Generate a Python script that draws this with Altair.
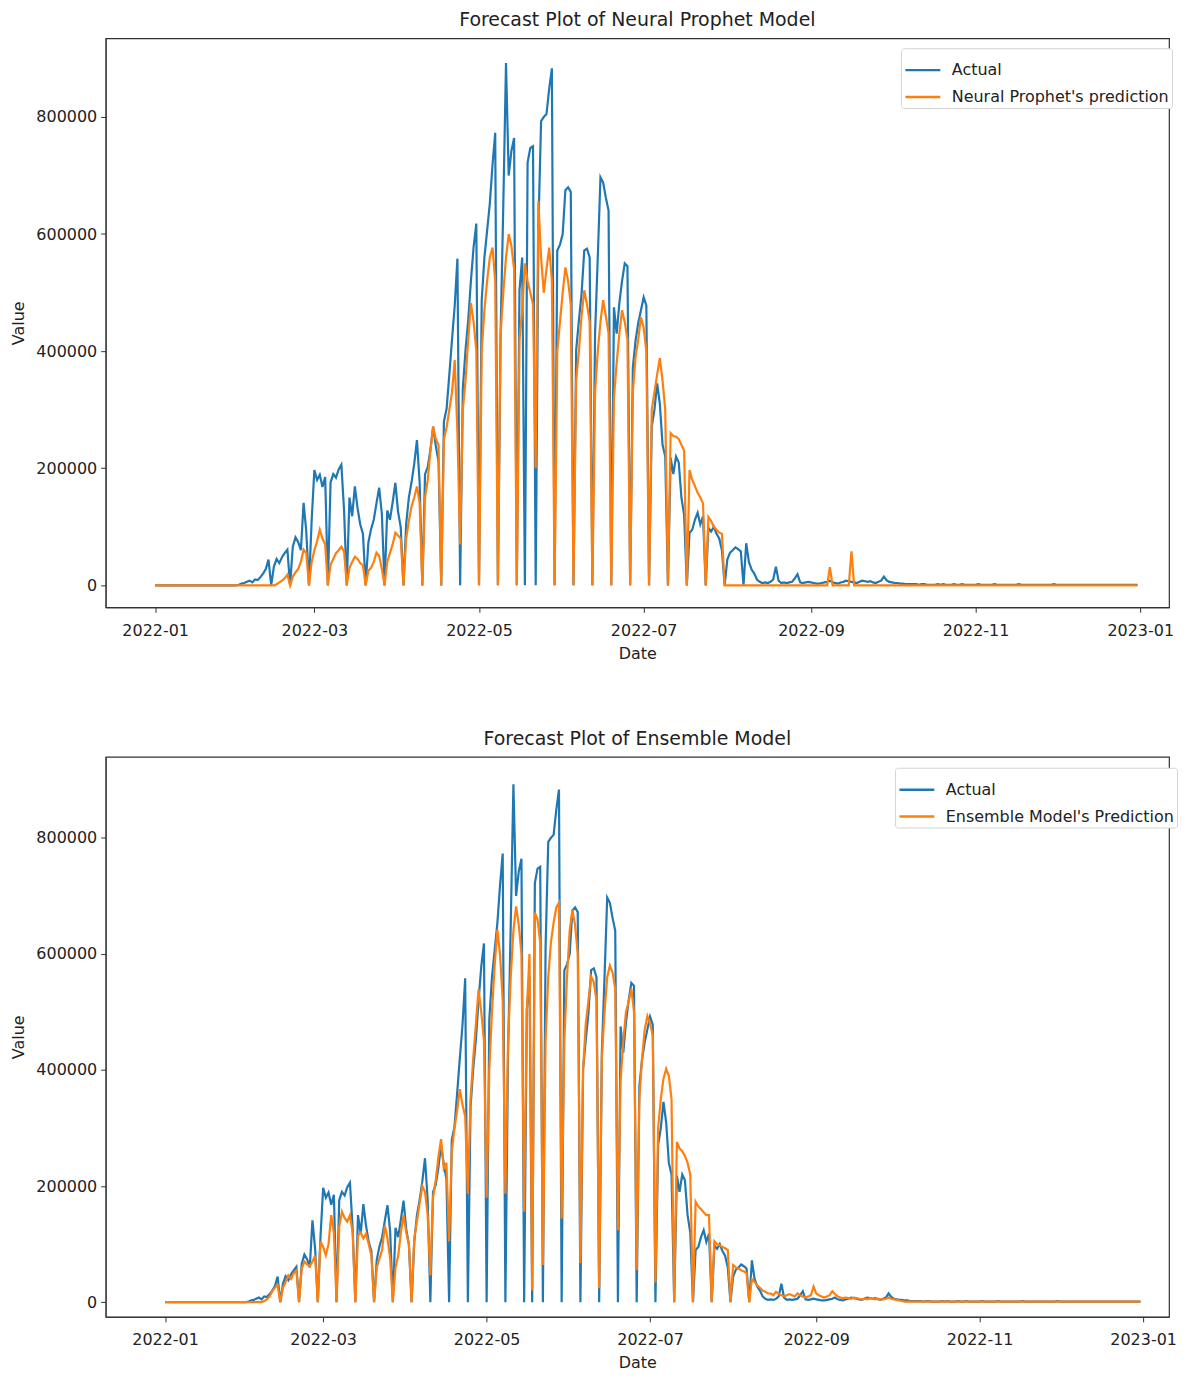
import altair as alt
import pandas as pd

# ---- values in thousands: first two days (Sat 1 Jan, Sun 2 Jan 2022), then weeks Mon..Sun ----
head_actual = [0, 0]
head_np = [0, 0]
head_ens = [0, 0]

actual_weeks = [
    [0, 0, 0, 0, 0, 0, 0],          # Jan 3
    [0, 0, 0, 0, 0, 0, 0],
    [0, 0, 0, 0, 0, 0, 0],
    [0, 0, 0, 0, 0, 0, 0],
    [0, 1, 3, 4, 6, 8, 5],          # Jan 31
    [10, 9, 14, 20, 28, 44, 0],
    [32, 45, 38, 48, 55, 61, 0],
    [66, 82, 74, 60, 141, 92, 0],
    [112, 197, 180, 189, 168, 185, 0],  # Feb 28
    [176, 190, 184, 198, 206, 128, 0],
    [150, 118, 169, 132, 104, 88, 0],
    [73, 96, 112, 140, 167, 122, 0],
    [128, 112, 142, 175, 126, 99, 0],   # Mar 28
    [104, 150, 176, 208, 248, 176, 0],
    [190, 202, 232, 271, 238, 212, 0],
    [280, 302, 360, 420, 478, 558, 0],
    [336, 402, 453, 520, 578, 618, 0],  # Apr 25
    [487, 560, 606, 652, 718, 773, 0],
    [430, 650, 892, 700, 742, 764, 0],
    [504, 560, 0, 722, 747, 750, 0],
    [610, 793, 800, 805, 848, 883, 0],  # May 23
    [572, 582, 600, 675, 680, 672, 0],
    [402, 452, 498, 572, 575, 560, 0],
    [430, 560, 697, 688, 662, 640, 0],
    [475, 430, 482, 520, 550, 545, 0],  # Jun 20
    [372, 418, 448, 470, 492, 478, 0],
    [271, 300, 345, 310, 240, 220, 0],
    [218, 190, 220, 210, 150, 120, 0],
    [90, 95, 112, 124, 104, 118, 0],    # Jul 18
    [98, 92, 100, 88, 80, 60, 0],
    [44, 56, 60, 65, 62, 58, 0],
    [72, 40, 27, 20, 10, 6, 4],
    [5, 4, 6, 10, 32, 8, 4],            # Aug 15
    [5, 4, 5, 6, 12, 19, 5],
    [4, 5, 6, 5, 4, 3, 3],
    [4, 5, 6, 8, 5, 4, 3],
    [5, 6, 8, 7, 6, 5, 4],              # Sep 12
    [6, 8, 7, 6, 7, 5, 4],
    [6, 8, 15, 9, 6, 5, 4],
    [4, 3, 3, 2, 2, 2, 2],
    [2, 1, 2, 2, 1, 1, 1],              # Oct 10
    [1, 2, 1, 2, 1, 1, 1],
    [2, 1, 1, 2, 1, 1, 1],
    [1, 1, 2, 1, 1, 1, 1],
    [1, 2, 1, 1, 1, 1, 1],              # Nov 7
    [1, 1, 1, 2, 1, 1, 1],
    [1, 1, 1, 1, 1, 1, 1],
    [1, 1, 2, 1, 1, 1, 1],
    [1, 1, 1, 1, 1, 1, 1],              # Dec 5
    [1, 1, 1, 1, 1, 1, 1],
    [1, 1, 1, 1, 1, 1, 1],
    [1, 1, 1, 1, 1, 1, 1],
]

np_weeks = [
    [0, 0, 0, 0, 0, 0, 0],
    [0, 0, 0, 0, 0, 0, 0],
    [0, 0, 0, 0, 0, 0, 0],
    [0, 0, 0, 0, 0, 0, 0],
    [0, 0, 0, 0, 0, 0, 0],
    [0, 0, 0, 0, 0, 0, 0],
    [0, 2, 5, 8, 12, 18, 0],
    [15, 22, 28, 40, 61, 55, 0],
    [40, 60, 75, 95, 80, 70, 0],
    [35, 45, 55, 60, 66, 58, 0],
    [30, 40, 49, 45, 38, 34, 0],
    [25, 30, 40, 56, 50, 28, 0],
    [40, 55, 70, 90, 85, 80, 0],
    [80, 110, 135, 150, 169, 141, 0],
    [150, 180, 230, 271, 250, 240, 0],
    [250, 270, 300, 330, 385, 260, 70],
    [300, 350, 420, 482, 450, 400, 0],
    [400, 470, 520, 560, 577, 520, 0],
    [430, 500, 560, 600, 580, 540, 0],
    [420, 470, 550, 520, 500, 480, 200],
    [657, 560, 500, 540, 577, 520, 0],
    [400, 450, 500, 543, 520, 480, 0],
    [350, 400, 460, 504, 480, 450, 0],
    [330, 400, 450, 487, 460, 430, 0],
    [320, 380, 430, 470, 450, 420, 0],
    [330, 390, 420, 458, 440, 400, 0],
    [300, 330, 360, 388, 350, 300, 0],
    [260, 255, 254, 250, 240, 230, 0],
    [197, 180, 170, 158, 150, 140, 0],
    [117, 110, 100, 95, 90, 88, 0],
    [0, 0, 0, 0, 0, 0, 0],
    [0, 0, 0, 0, 0, 0, 0],
    [0, 0, 0, 0, 0, 0, 0],
    [0, 0, 0, 0, 0, 0, 0],
    [0, 0, 0, 0, 0, 0, 0],
    [0, 0, 0, 31, 0, 0, 0],
    [0, 0, 0, 0, 58, 0, 0],
    [0, 0, 0, 0, 0, 0, 0],
    [0, 0, 0, 0, 0, 0, 0],
    [0, 0, 0, 0, 0, 0, 0],
    [0, 0, 0, 0, 0, 0, 0],
    [0, 0, 0, 0, 0, 0, 0],
    [0, 0, 0, 0, 0, 0, 0],
    [0, 0, 0, 0, 0, 0, 0],
    [0, 0, 0, 0, 0, 0, 0],
    [0, 0, 0, 0, 0, 0, 0],
    [0, 0, 0, 0, 0, 0, 0],
    [0, 0, 0, 0, 0, 0, 0],
    [0, 0, 0, 0, 0, 0, 0],
    [0, 0, 0, 0, 0, 0, 0],
    [0, 0, 0, 0, 0, 0, 0],
    [0, 0, 0, 0, 0, 0, 0],
]

ens_weeks = [
    [0, 0, 0, 0, 0, 0, 0],
    [0, 0, 0, 0, 0, 0, 0],
    [0, 0, 0, 0, 0, 0, 0],
    [0, 0, 0, 0, 0, 0, 0],
    [0, 0, 0, 0, 0, 0, 0],
    [2, 5, 10, 19, 25, 30, 0],
    [25, 35, 46, 40, 50, 55, 0],
    [58, 70, 65, 62, 70, 80, 0],
    [105, 95, 81, 100, 150, 120, 0],
    [130, 156, 145, 139, 150, 120, 0],
    [115, 120, 110, 118, 100, 80, 0],
    [60, 75, 90, 132, 110, 75, 0],
    [60, 80, 120, 150, 120, 100, 0],
    [110, 140, 170, 200, 190, 150, 46],
    [180, 210, 250, 281, 230, 240, 105],
    [260, 300, 330, 367, 340, 320, 187],
    [350, 420, 480, 539, 500, 450, 180],
    [400, 500, 580, 642, 600, 520, 187],
    [450, 560, 640, 682, 650, 600, 156],
    [500, 600, 20, 671, 659, 620, 64],
    [450, 560, 620, 654, 680, 688, 144],
    [450, 560, 640, 676, 650, 600, 67],
    [400, 480, 520, 561, 551, 520, 24],
    [420, 500, 560, 580, 568, 540, 124],
    [380, 450, 500, 517, 540, 500, 55],
    [350, 420, 470, 493, 480, 460, 34],
    [300, 350, 385, 402, 390, 350, 0],
    [276, 265, 260, 252, 240, 220, 0],
    [173, 165, 160, 155, 150, 150, 0],
    [105, 100, 98, 95, 93, 90, 0],
    [64, 60, 58, 55, 53, 50, 0],
    [40, 35, 29, 25, 20, 18, 15],
    [15, 12, 18, 14, 12, 10, 12],
    [14, 12, 10, 15, 12, 10, 8],
    [10, 12, 27, 15, 12, 10, 8],
    [10, 12, 19, 14, 10, 8, 7],
    [8, 7, 6, 8, 7, 6, 5],
    [6, 5, 7, 6, 5, 6, 5],
    [5, 6, 8, 6, 5, 4, 3],
    [2, 1, 1, 1, 1, 1, 1],
    [1, 1, 1, 1, 1, 1, 1],
    [1, 1, 1, 1, 1, 1, 1],
    [1, 1, 1, 1, 1, 1, 1],
    [1, 1, 1, 1, 1, 1, 1],
    [1, 1, 1, 1, 1, 1, 1],
    [1, 1, 1, 1, 1, 1, 1],
    [1, 1, 1, 1, 1, 1, 1],
    [1, 1, 1, 1, 1, 1, 1],
    [1, 1, 1, 1, 1, 1, 1],
    [1, 1, 1, 1, 1, 1, 1],
    [1, 1, 1, 1, 1, 1, 1],
    [1, 1, 1, 1, 1, 1, 1],
]

y_ticks = [0, 200000, 400000, 600000, 800000]
x_tick_months = [(2022, 1), (2022, 3), (2022, 5), (2022, 7), (2022, 9), (2022, 11), (2023, 1)]

BLUE = "#1f77b4"
ORANGE = "#ff7f0e"
FONT = "DejaVu Sans"
N_DAYS = 365


def flat(head, weeks):
    vals = list(head)
    for wk in weeks:
        vals.extend(wk)
    return [v * 1000 for v in vals[:N_DAYS]]


dates = list(pd.date_range("2022-01-01", periods=N_DAYS, freq="D").strftime("%Y-%m-%d"))
actual = flat(head_actual, actual_weeks)
np_pred = flat(head_np, np_weeks)
ens_pred = flat(head_ens, ens_weeks)

x_ticks = [alt.DateTime(year=y, month=m, date=1, utc=True) for y, m in x_tick_months]


def panel(pred, pred_label, title, xdom, ydom, w, h, lx, ly):
    df = pd.DataFrame({
        "Date": dates + dates,
        "Value": actual + pred,
        "series": ["Actual"] * N_DAYS + [pred_label] * N_DAYS,
        "k": [0] * N_DAYS + [1] * N_DAYS,
    })
    color = alt.Color(
        "series:N",
        scale=alt.Scale(domain=["Actual", pred_label], range=[BLUE, ORANGE]),
        legend=alt.Legend(
            title=None, orient="none", legendX=lx, legendY=ly,
            symbolType="stroke", symbolSize=1225, symbolStrokeWidth=2.5,
            labelFont=FONT, labelFontSize=16, labelColor="#222", labelLimit=0,
            fillColor="white", strokeColor="#d4d4d4", cornerRadius=3,
            padding=3, rowPadding=-3, labelOffset=10,
        ),
    )
    x = alt.X(
        "Date:T", title="Date",
        scale=alt.Scale(type="utc", domain=xdom, nice=False),
        axis=alt.Axis(values=x_ticks, format="%Y-%m", labelFlush=False),
    )
    y = alt.Y(
        "Value:Q", title="Value",
        scale=alt.Scale(domain=ydom, nice=False, zero=False),
        axis=alt.Axis(values=y_ticks, format="d"),
    )
    base = alt.Chart(df)
    l_act = base.transform_filter(alt.datum.k == 0).mark_line(strokeWidth=2.2, clip=True).encode(x=x, y=y, color=color)
    l_pred = base.transform_filter(alt.datum.k == 1).mark_line(strokeWidth=2.2, clip=True).encode(x=x, y=y, color=color)
    return alt.layer(l_act, l_pred).properties(width=w, height=h, title=title)


top = panel(
    np_pred, "Neural Prophet's prediction", "Forecast Plot of Neural Prophet Model",
    [alt.DateTime(year=2021, month=12, date=13, hours=16, utc=True),
     alt.DateTime(year=2023, month=1, date=11, hours=16, utc=True)],
    [-37447, 934468], 1067, 571, 798, 10,
)
bottom = panel(
    ens_pred, "Ensemble Model's Prediction", "Forecast Plot of Ensemble Model",
    [alt.DateTime(year=2021, month=12, date=9, hours=20, utc=True),
     alt.DateTime(year=2023, month=1, date=10, hours=16, utc=True)],
    [-25236, 939571], 1067, 562, 792, 11,
)

chart = (
    alt.vconcat(top, bottom, spacing=67)
    .resolve_scale(x="independent", y="independent", color="independent")
    .properties(padding={"left": 2, "top": 0, "right": 0, "bottom": 0})
    .configure_view(stroke="#333", strokeWidth=1.2)
    .configure_axis(
        grid=False, labelFont=FONT, labelFontSize=16, labelColor="#222",
        titleFont=FONT, titleFontSize=16, titleFontWeight="normal", titleColor="#222",
        domainColor="#333", tickColor="#333", tickSize=5,
    )
    .configure_axisY(titlePadding=9, labelPadding=4)
    .configure_axisX(titlePadding=7, labelPadding=10)
    .configure_title(font=FONT, fontSize=19, fontWeight="normal", color="#222", offset=8)
)

chart.save("out.html", embed_options={"renderer": "svg", "actions": False})
